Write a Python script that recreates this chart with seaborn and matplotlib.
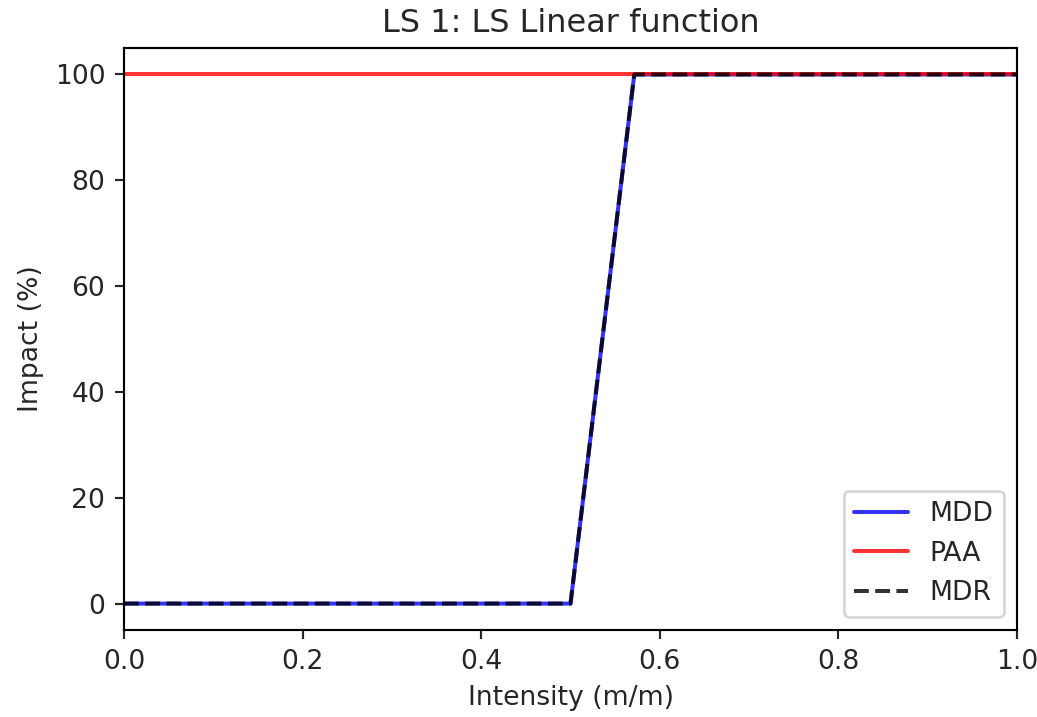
import matplotlib
matplotlib.use("Agg")
import matplotlib.pyplot as plt
import seaborn as sns
import numpy as np

intensity = [0.0, 0.5, 0.5714, 1.0]
mdd = [0.0, 0.0, 100.0, 100.0]
paa = [100.0, 100.0, 100.0, 100.0]
mdr = [0.0, 0.0, 100.0, 100.0]

sns.set_style("white")
plt.rcParams['font.family'] = ['DejaVu Sans']
plt.rcParams['axes.edgecolor'] = 'black'
plt.rcParams['text.color'] = '#262626'
plt.rcParams['axes.labelcolor'] = '#262626'
plt.rcParams['xtick.color'] = '#262626'
plt.rcParams['ytick.color'] = '#262626'

DPI = 192
fig = plt.figure(figsize=(1037/DPI, 717/DPI), dpi=DPI)
ax = fig.add_axes([0.1196, 0.1213, 0.9807-0.1196, 0.933-0.1213])

sns.lineplot(x=intensity, y=mdd, ax=ax, color='b', alpha=0.8, label='MDD', linewidth=1.5)
sns.lineplot(x=intensity, y=paa, ax=ax, color='r', alpha=0.8, label='PAA', linewidth=1.5)
sns.lineplot(x=intensity, y=mdr, ax=ax, color='k', alpha=0.8, label='MDR', linewidth=1.5, linestyle='--')

ax.set_xlim(0, 1)
ax.set_ylim(-5, 105)
ax.set_yticks([0, 20, 40, 60, 80, 100])
ax.set_xticks([0.0, 0.2, 0.4, 0.6, 0.8, 1.0])
ax.set_xticklabels(['0.0', '0.2', '0.4', '0.6', '0.8', '1.0'])
ax.tick_params(axis='both', which='both', direction='out', length=3.5, width=0.8, left=True, bottom=True, labelsize=10)
for s in ax.spines.values():
    s.set_linewidth(0.8)
    s.set_color('black')
ax.set_xlabel('Intensity (m/m)', fontsize=10)
ax.set_ylabel('Impact (%)', fontsize=10)
ax.set_title('LS 1: LS Linear function', fontsize=12)
leg = ax.legend(loc='lower right', fontsize=10, frameon=True)

fig.savefig('out.png', dpi=DPI, facecolor='white')
